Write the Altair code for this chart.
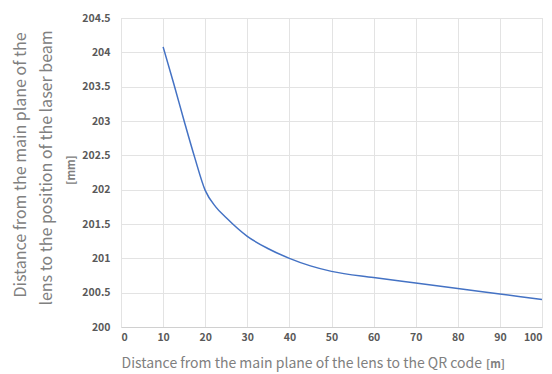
import altair as alt
import pandas as pd

dist_m = [10, 12.5, 15, 17.5, 20, 22.5, 25, 30, 35, 40, 45, 50, 60, 70, 80, 90, 100]
pos_mm = [204.08, 203.55, 203.0, 202.47, 201.99, 201.75, 201.59, 201.32, 201.14, 201.0, 200.89, 200.81, 200.72, 200.64, 200.56, 200.48, 200.40]

x_ticks = list(range(0, 101, 10))
y_ticks = [200, 200.5, 201, 201.5, 202, 202.5, 203, 203.5, 204, 204.5]

df = pd.DataFrame({"d": dist_m, "p": pos_mm})
one = pd.DataFrame({"k": [0]})

FONT = "Noto Sans CJK JP"
GREY = "#808080"
LBL = "#595959"

line = alt.Chart(df).mark_line(color="#4472C4", strokeWidth=1.5, interpolate="monotone").encode(
    x=alt.X("d:Q", scale=alt.Scale(domain=[0, 100], nice=False),
            axis=alt.Axis(values=x_ticks, title=None, labelFont=FONT, labelFontWeight="bold",
                          labelColor=LBL, labelFontSize=10.5, labelPadding=5, ticks=False,
                          domainColor="#d0d0d0", gridColor="#e3e3e3")),
    y=alt.Y("p:Q", scale=alt.Scale(domain=[200, 204.5], nice=False, zero=False),
            axis=alt.Axis(values=y_ticks, title=None, labelFont=FONT, labelFontWeight="bold",
                          labelColor=LBL, labelFontSize=10.5, labelPadding=11, ticks=False,
                          domainColor="#e3e3e3", gridColor="#e3e3e3",
                          labelExpr="datum.value")),
)

def txt(s, x, y, size=15, weight="normal", angle=0, align="center"):
    return alt.Chart(one).mark_text(text=s, font=FONT, fontSize=size, fontWeight=weight,
                                    color=GREY, angle=angle, align=align, baseline="middle").encode(
        x=alt.value(x), y=alt.value(y))

titles = [
    txt("Distance from the main plane of the", -100, 147, size=16, angle=270),
    txt("lens to the position of the laser beam", -74, 150, size=16, angle=270),
    txt("[mm]", -49, 152, size=11, weight="bold", angle=270),
    txt("Distance from the main plane of the lens to the QR code", 361, 346, size=14, align="right"),
    txt("[m]", 365, 347, size=11, weight="bold", align="left"),
]

chart = alt.layer(line, *titles).properties(
    width=421, height=309,
    autosize=alt.AutoSizeParams(type="none"),
    padding={"left": 113, "top": 10, "right": 2, "bottom": 46},
).configure_view(stroke=None).configure(background="white")

chart.save("out.html", embed_options={"renderer": "svg", "actions": False})
